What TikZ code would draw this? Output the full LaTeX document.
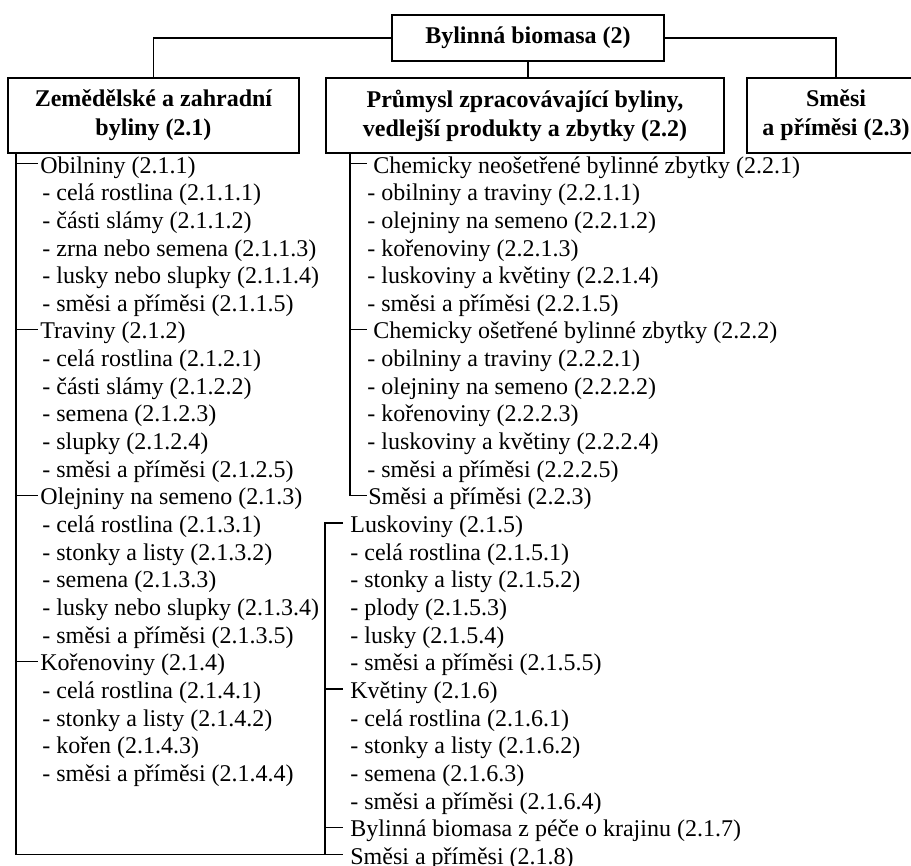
\documentclass[tikz,border=0pt,12pt]{standalone}
\usepackage{fontspec}
\setmainfont{Liberation Serif}
\usepackage{tikz}

\tikzset{
  box/.style={draw, line width=0.7pt, align=center, font=\bfseries, inner sep=0pt, minimum height=37.5pt},
  item/.style={anchor=west, inner sep=0pt, text height=0.9em, text depth=0.1em},
  link/.style={line width=0.6pt},
}

\begin{document}
\begin{tikzpicture}[x=0.5pt, y=-0.5pt]
  \useasboundingbox (0,0) rectangle (911,866);

  % boxes
  \node[box, minimum width=136pt, minimum height=23pt] (top) at (528,38) {Bylinná biomasa (2)};
  \node[box, minimum width=145.5pt] (b21) at (153.5,115.5) {Zemědělské a zahradní\\byliny (2.1)};
  \node[box, minimum width=199pt] (b22) at (525,115.5) {Průmysl zpracovávající byliny,\\vedlejší produkty a zbytky (2.2)};
  \node[box, minimum width=89pt] (b23) at (836,115.5) {Směsi\\a příměsi (2.3)};

  \draw[link] (top.west) -| (b21.north);
  \draw[link] (top.east) -| (b23.north);
  \draw[link] (top.south) -- (top.south |- b22.north);

  % 2.1 left column
  \node[item] (obil) at (40,163.5) {Obilniny (2.1.1)};
  \node[item] (trav) at (40,329.4) {Traviny (2.1.2)};
  \node[item] (olej) at (40,495.3) {Olejniny na semeno (2.1.3)};
  \node[item] (kor)  at (40,661.2) {Kořenoviny (2.1.4)};
  \foreach \r/\t in {1/- celá rostlina (2.1.1.1), 2/- části slámy (2.1.1.2),
      3/- zrna nebo semena (2.1.1.3), 4/- lusky nebo slupky (2.1.1.4),
      5/- směsi a příměsi (2.1.1.5),
      7/- celá rostlina (2.1.2.1), 8/- části slámy (2.1.2.2), 9/- semena (2.1.2.3),
      10/- slupky (2.1.2.4), 11/- směsi a příměsi (2.1.2.5),
      13/- celá rostlina (2.1.3.1), 14/- stonky a listy (2.1.3.2), 15/- semena (2.1.3.3),
      16/- lusky nebo slupky (2.1.3.4), 17/- směsi a příměsi (2.1.3.5),
      19/- celá rostlina (2.1.4.1), 20/- stonky a listy (2.1.4.2), 21/- kořen (2.1.4.3),
      22/- směsi a příměsi (2.1.4.4)}
    \node[item] (l\r) at (42,{163.5+27.65*\r}) {\t};

  % 2.2 middle column
  \node[item] (chn)  at (373,163.5) {Chemicky neošetřené bylinné zbytky (2.2.1)};
  \node[item] (cho)  at (373,329.4) {Chemicky ošetřené bylinné zbytky (2.2.2)};
  \node[item] (sm22) at (368,495.3) {Směsi a příměsi (2.2.3)};
  \foreach \r/\t in {1/- obilniny a traviny (2.2.1.1), 2/- olejniny na semeno (2.2.1.2),
      3/- kořenoviny (2.2.1.3), 4/- luskoviny a květiny (2.2.1.4), 5/- směsi a příměsi (2.2.1.5),
      7/- obilniny a traviny (2.2.2.1), 8/- olejniny na semeno (2.2.2.2),
      9/- kořenoviny (2.2.2.3), 10/- luskoviny a květiny (2.2.2.4), 11/- směsi a příměsi (2.2.2.5)}
    \node[item] (m\r) at (367,{163.5+27.65*\r}) {\t};

  % 2.1 continued
  \node[item] (lusk) at (350,523.0) {Luskoviny (2.1.5)};
  \node[item] (kvet) at (350,688.9) {Květiny (2.1.6)};
  \node[item] (kraj) at (350,827.1) {Bylinná biomasa z péče o krajinu (2.1.7)};
  \node[item] (sm21) at (350,854.8) {Směsi a příměsi (2.1.8)};
  \foreach \r/\t in {14/- celá rostlina (2.1.5.1), 15/- stonky a listy (2.1.5.2), 16/- plody (2.1.5.3),
      17/- lusky (2.1.5.4), 18/- směsi a příměsi (2.1.5.5),
      20/- celá rostlina (2.1.6.1), 21/- stonky a listy (2.1.6.2), 22/- semena (2.1.6.3),
      23/- směsi a příměsi (2.1.6.4)}
    \node[item] (k\r) at (350,{163.5+27.65*\r}) {\t};

  % tree lines
  \coordinate (lx) at (16,153);
  \coordinate (mx) at (325,0);
  \coordinate (cx) at (350,0);
  \draw[link] (lx) -- (lx |- sm21.west) -- ([xshift=-3.5pt]sm21.west);
  \foreach \n in {obil,trav,olej,kor}
    \draw[link] (lx |- \n.west) -- ([xshift=-1pt]\n.west);
  \draw[link] ([xshift=-3.5pt]lusk.west) -| (mx |- sm21.west);
  \foreach \n in {kvet,kraj}
    \draw[link] (mx |- \n.west) -- ([xshift=-3.5pt]\n.west);
  \draw[link] (cx |- b22.south) |- ([xshift=-0.5pt]sm22.west);
  \foreach \n in {chn,cho}
    \draw[link] (cx |- \n.west) -- ([xshift=-3pt]\n.west);
\end{tikzpicture}
\end{document}
